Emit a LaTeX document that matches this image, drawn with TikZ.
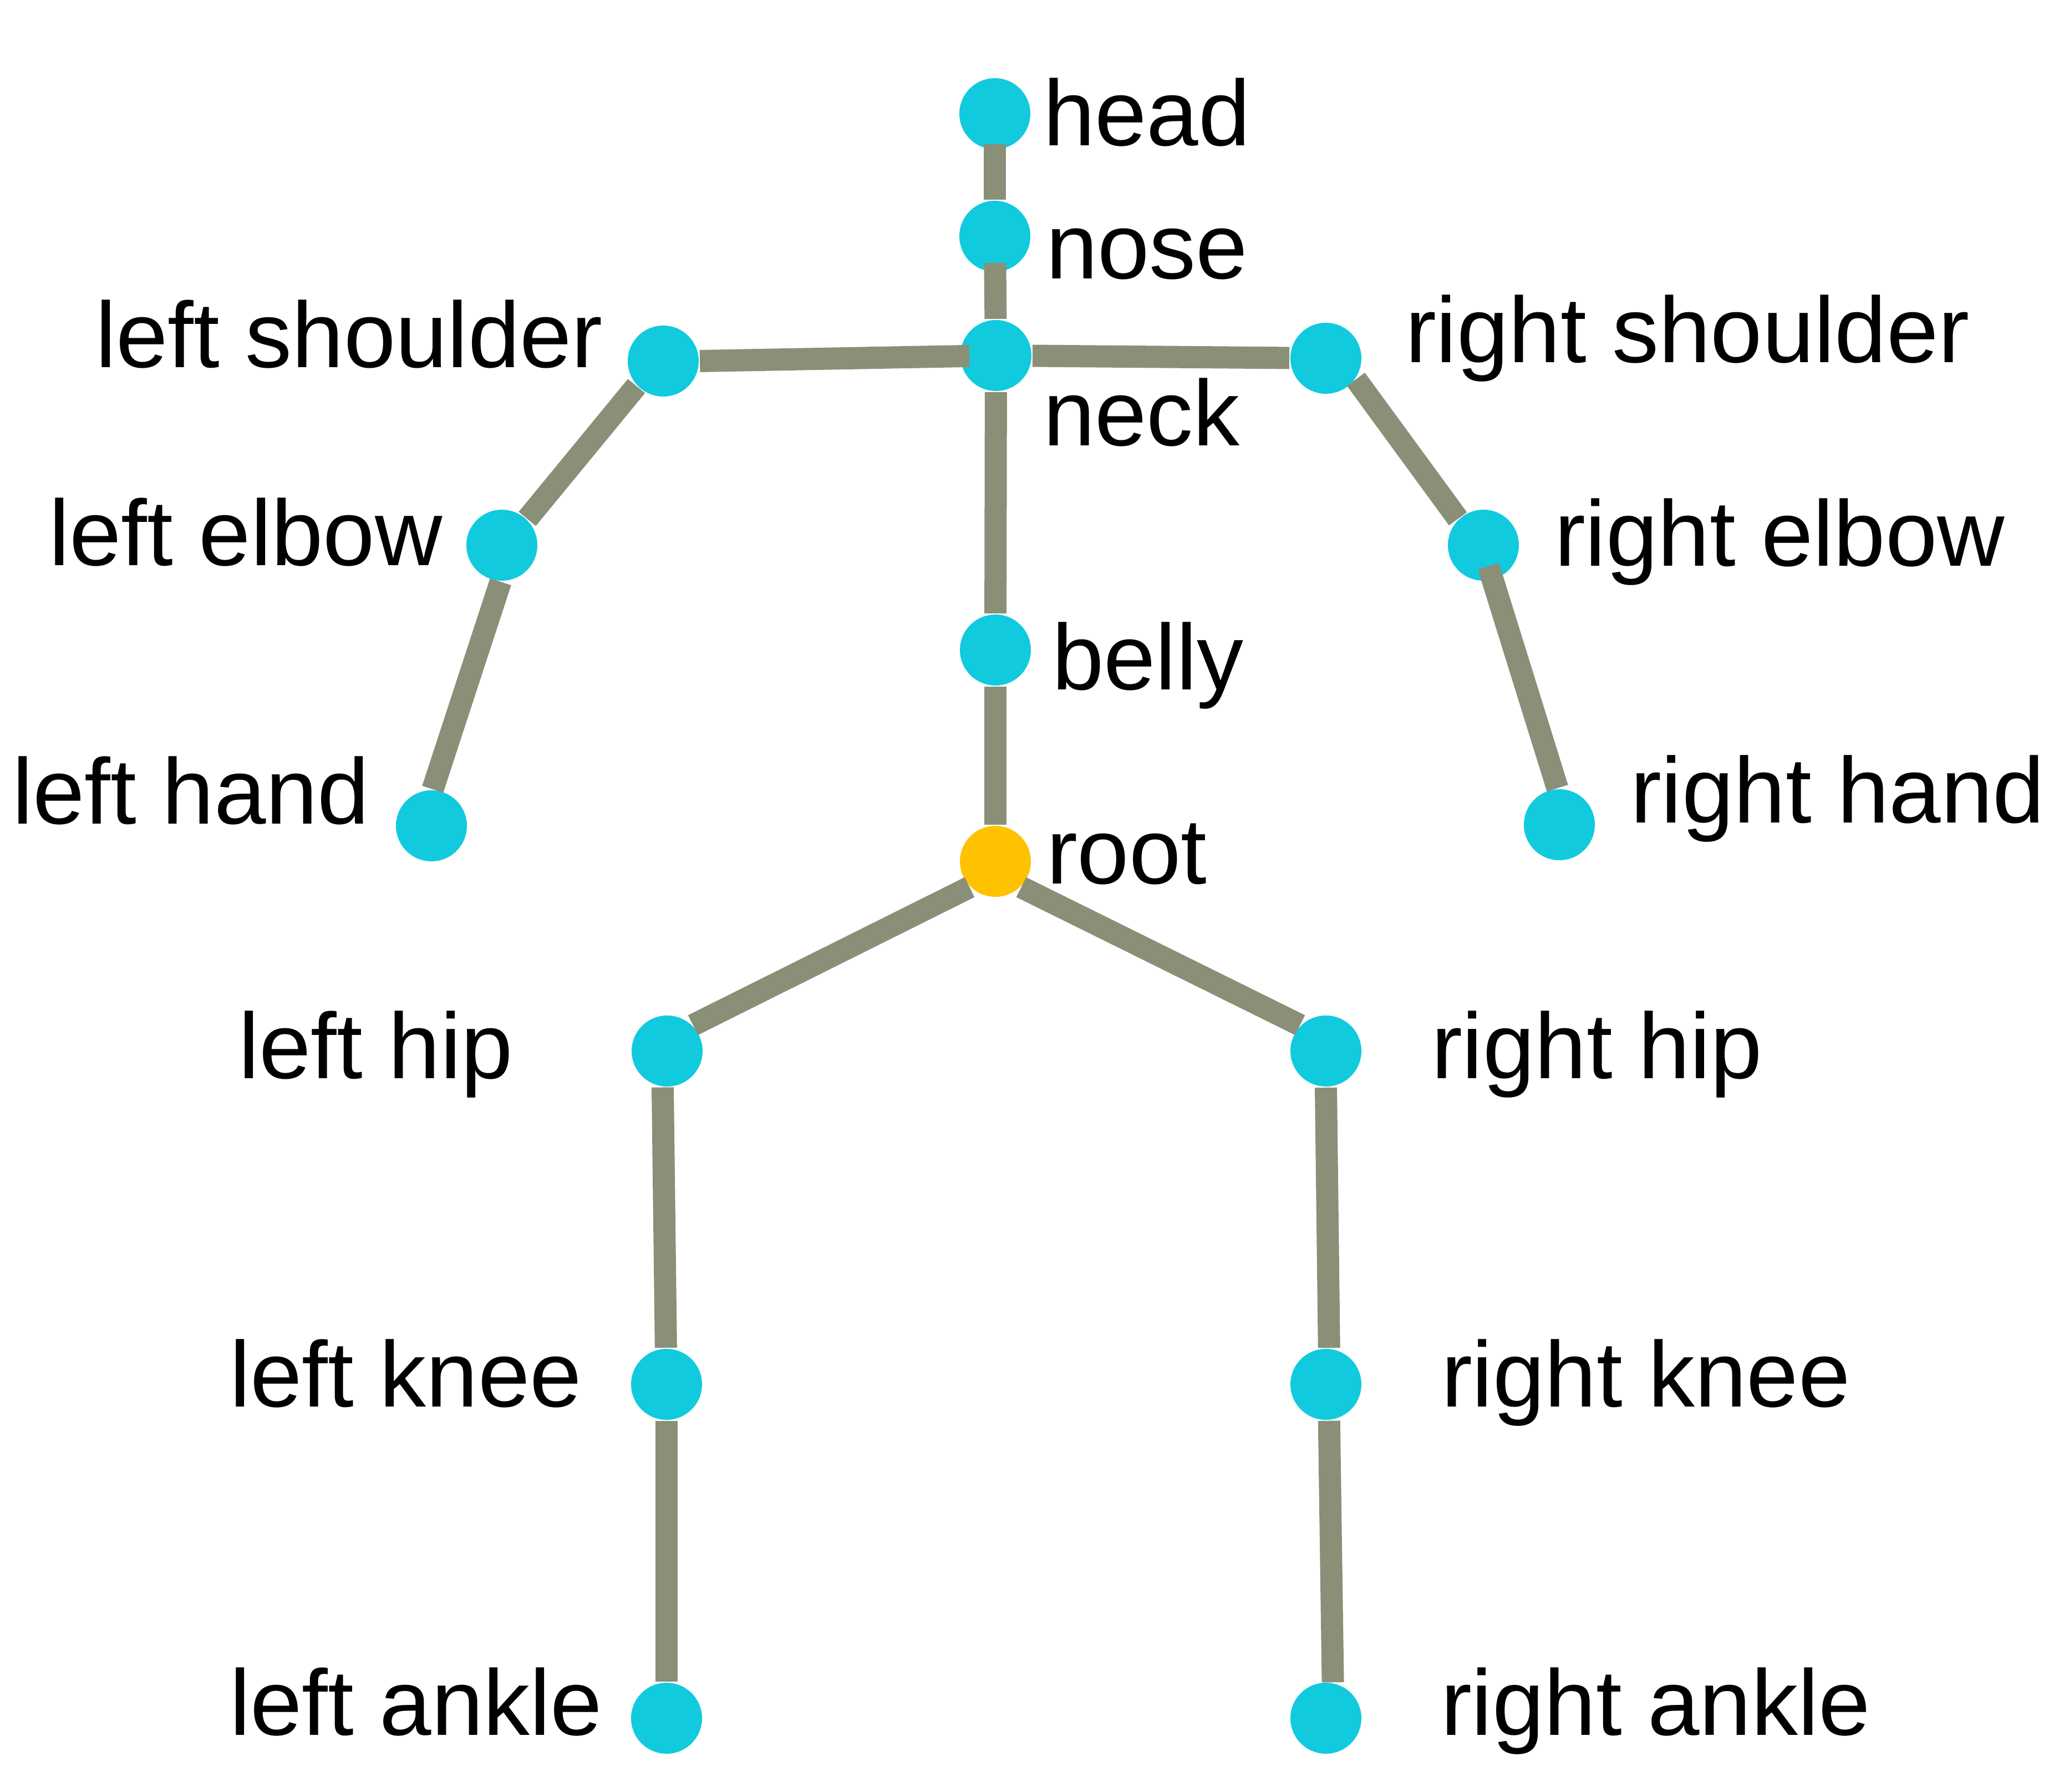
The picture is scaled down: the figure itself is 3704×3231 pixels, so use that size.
\documentclass[tikz,border=0pt]{standalone}
\usepackage{fontspec}
\setmainfont{Liberation Sans}
\definecolor{jointc}{HTML}{12CADE}
\definecolor{rootc}{HTML}{FFC200}
\definecolor{bonec}{HTML}{8A8F78}
\begin{document}
\begin{tikzpicture}[x=0.1pt,y=-0.1pt,
  joint/.style={circle,fill=jointc,draw=none,minimum size=12.8pt,inner sep=0pt},
  rootjoint/.style={joint,fill=rootc},
  bone/.style={draw=bonec,line width=4pt},
  lbl/.style={anchor=base west,inner sep=0pt,font=\fontsize{16.8}{20}\selectfont}]
\useasboundingbox (0,0) rectangle (3704,3231);
% joints
\node[joint] (head)  at (1794,205) {};
\node[joint] (nose)  at (1794,426) {};
\node[joint] (neck)  at (1796,641) {};
\node[joint] (lsh)   at (1196,651) {};
\node[joint] (rsh)   at (2391,646) {};
\node[joint] (lel)   at (905,983) {};
\node[joint] (rel)   at (2675,983) {};
\node[joint] (lha)   at (778,1489) {};
\node[joint] (rha)   at (2812,1487) {};
\node[joint] (belly) at (1795,1172) {};
\node[rootjoint] (root) at (1795,1553) {};
\node[joint] (lhip)  at (1203,1895) {};
\node[joint] (rhip)  at (2391,1895) {};
\node[joint] (lknee) at (1202,2496) {};
\node[joint] (rknee) at (2391,2496) {};
\node[joint] (lank)  at (1202,3098) {};
\node[joint] (rank)  at (2391,3098) {};
% bones
\draw[bone,shorten <=-1.1pt] (head) -- (nose);
\draw[bone,shorten <=-1.8pt] (nose) -- (neck);
\draw[bone,shorten >=-1.8pt] (lsh.0) -- (neck);
\draw[bone] (neck) -- (rsh);
\draw[bone] (lsh.-137) -- (lel.46);
\draw[bone] (lel.-92) -- (lha.88);
\draw[bone] (rsh.-35) -- (rel.134);
\draw[bone,shorten <=-2.7pt] (rel.-75) -- (rha.93);
\draw[bone] (neck) -- (belly);
\draw[bone] (belly) -- (root);
\draw[bone] (root.-135) -- (lhip.45);
\draw[bone] (root.-45) -- (rhip.135);
\draw[bone] (lhip.-97) -- (lknee.91);
\draw[bone] (lknee) -- (lank);
\draw[bone] (rhip.-90) -- (rknee.85);
\draw[bone] (rknee.-85) -- (rank.79);
% labels
\node[lbl] (thead)  at (1879,263) {head};
\node[lbl] (tnose)  at (1884,503) {nose};
\node[lbl] (tneck)  at (1879,804) {neck};
\node[lbl] (tbelly) at (1895,1244) {belly};
\node[lbl] (troot)  at (1885,1594) {root};
\node[lbl] (tlsh)   at (170,663) {left shoulder};
\node[lbl] (tlel)   at (86,1020) {left elbow};
\node[lbl] (tlha)   at (20,1486) {left hand};
\node[lbl] (tlhip)  at (428,1945) {left hip};
\node[lbl] (tlknee) at (412,2537) {left knee};
\node[lbl] (tlank)  at (412,3129) {left ankle};
\node[lbl] (trsh)   at (2532,654) {right shoulder};
\node[lbl] (trel)   at (2801,1021) {right elbow};
\node[lbl] (trha)   at (2938,1484) {right hand};
\node[lbl] (trhip)  at (2579,1945) {right hip};
\node[lbl] (trknee) at (2597,2537) {right knee};
\node[lbl] (trank)  at (2596,3129) {right ankle};
\end{tikzpicture}
\end{document}
